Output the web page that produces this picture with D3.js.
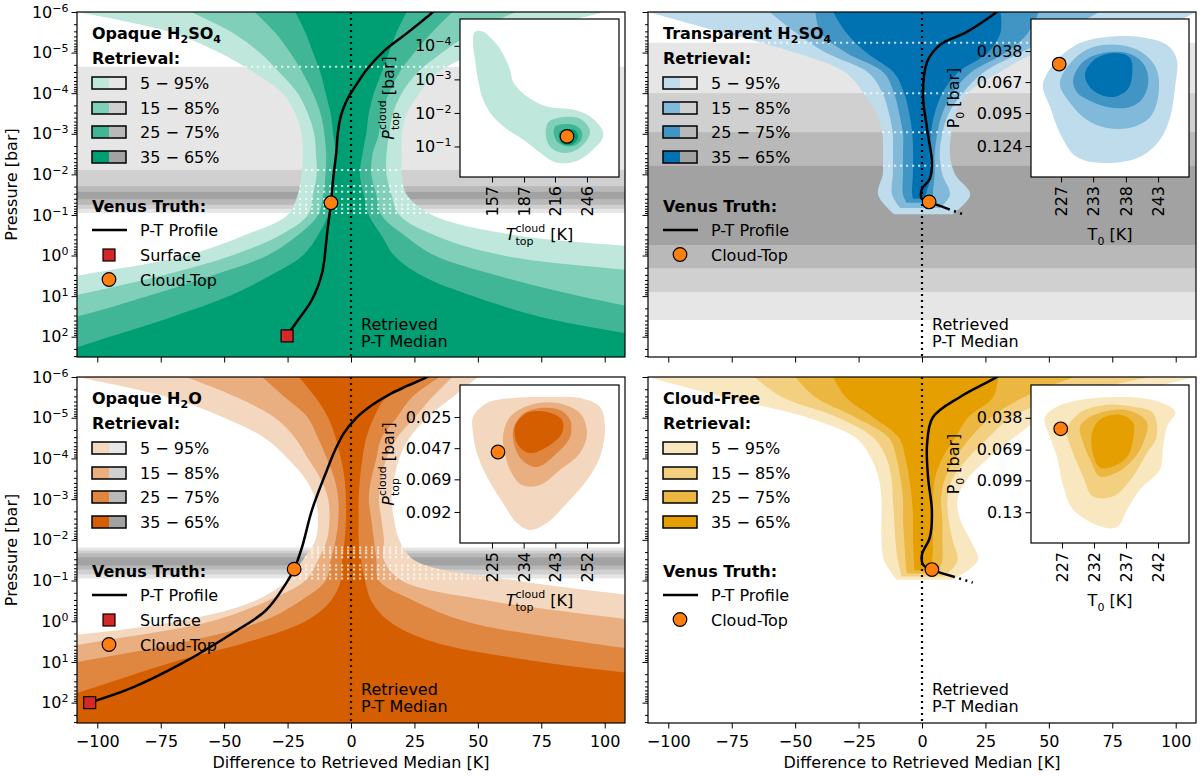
<!DOCTYPE html>
<html>
<head>
<meta charset="utf-8">
<script src="https://cdn.jsdelivr.net/npm/d3@7"></script>
<style>
  body { margin: 0; background: #fff; }
  svg text { font-family: "DejaVu Sans", sans-serif; }
</style>
</head>
<body>
<div id="chart"></div>
<script>
// ---- shared axis data ----
const kDomain = [-108, 108];
const xTicks = [-100, -75, -50, -25, 0, 25, 50, 75, 100];
const yMajor = [1e-6, 1e-5, 1e-4, 1e-3, 1e-2, 1e-1, 1, 10, 100];
const yExp = ["\u22126", "\u22125", "\u22124", "\u22123", "\u22122", "\u22121", "0", "1", "2"];
const bandLabels = ["5 \u2212 95%", "15 \u2212 85%", "25 \u2212 75%", "35 \u2212 65%"];

const GRAYS = ["#e6e6e6", "#d0d0d0", "#b9b9b9", "#a2a2a2"];
const greenShades = ["#bfe7dc", "#80cfb9", "#40b696", "#009e73"];
const blueShades = ["#bfdcec", "#80b9d9", "#4095c5", "#0072b2"];
const orangeShades = ["#f4d7bf", "#eaaf80", "#df8640", "#d55e00"];
const goldShades = ["#f9e7bf", "#f3cf80", "#ecb740", "#e69f00"];

// ---- percentile bands: [log10 P, q05, q15, q25, q35, q65, q75, q85, q95] in K ----
const h2so4Bands = [
  [-6, -108, -63, -38, -22, 22, 40, 65, 100],
  [-5.5, -71, -47, -30, -18, 18, 32, 48, 70],
  [-5, -52, -36, -24, -15, 15, 25, 36, 50],
  [-4.5, -38, -28, -19, -12, 12, 19, 26, 34],
  [-4, -27, -21, -15, -10, 9, 15, 20, 27],
  [-3.5, -22, -17, -12, -8, 7, 12, 16.5, 22],
  [-3, -19.5, -14.5, -10.5, -7, 6, 11, 15, 20],
  [-2.5, -19, -13.8, -9.8, -6, 4.5, 8.5, 14, 20],
  [-2, -19.5, -13.5, -10, -6.5, 3.5, 8, 14, 20],
  [-1.5, -21, -15, -11, -7, 5, 10, 16, 22],
  [-1, -25, -17, -13, -9, 7, 12, 19, 32],
  [-0.5, -42, -28, -21, -13, 12, 21, 33, 65],
  [0, -65, -47, -33, -19, 17, 33, 60, 160],
  [0.5, -108, -75, -55, -32, 28, 58, 130, 220],
  [1, -150, -110, -80, -48, 48, 90, 180, 270],
  [1.5, -200, -150, -108, -70, 74, 130, 220, 320],
  [2, -250, -200, -150, -95, 115, 170, 260, 370],
  [2.5, -300, -250, -200, -120, 150, 210, 300, 420]
];
const transBands = [
  [-6, -108, -60, -42, -35, 31, 46, 70, 108],
  [-5.5, -79, -50, -40, -30, 31, 42, 55, 90],
  [-5, -50, -38, -30, -22, 26, 33, 39, 46],
  [-4.5, -30, -21, -15, -11, 14, 19, 24, 30],
  [-4, -23, -15.5, -11, -7, 8, 12, 16, 18],
  [-3.5, -18, -13, -9, -5, 5, 8, 10.5, 13],
  [-3, -15.6, -11.5, -7.5, -3.8, 3.5, 6, 8, 11.5],
  [-2.5, -15.4, -11.4, -7.5, -3.5, 3, 5, 7, 11],
  [-2, -15.5, -11.5, -7.5, -3.6, 3.5, 5, 8, 13],
  [-1.5, -17.3, -11.8, -7.5, -3.9, 1.5, 4.3, 11, 19]
];
const transBottom = [[-1.02, -11, 12], [-1.17, -8.5, 7], [-1.3, -6, 4.5], [-1.4, -3.5, 1]];
const waterBands = [
  [-6, -108, -65, -35, -20.5, 29, 35, 40, 50],
  [-5.5, -72, -45, -26, -14, 14, 24, 32, 40],
  [-5, -50, -30, -17, -9, 9, 18, 25, 30],
  [-4.5, -34, -22, -13, -6, 6, 12, 18, 23],
  [-4, -25, -17, -9.5, -4, 4.5, 10, 14, 19],
  [-3.5, -18, -12, -6.5, -2.5, 3.5, 8, 12, 17],
  [-3, -14, -9, -5, -2, 3, 7, 11, 16],
  [-2.5, -13, -8.5, -5, -2, 3, 8, 12, 17],
  [-2, -14, -9.5, -6, -2.5, 3, 9, 13, 19],
  [-1.5, -19, -13, -8, -3.5, 4, 10, 13, 25],
  [-1, -25, -18, -10, -4, 5.5, 11, 20, 65],
  [-0.5, -38, -33, -20, -8, 8, 25, 55, 130],
  [0, -68, -55, -35, -18, 15, 45, 115, 200],
  [0.5, -130, -100, -65, -40, 32, 90, 180, 260],
  [1, -180, -150, -108, -70, 75, 150, 250, 320],
  [1.5, -230, -200, -160, -95, 140, 200, 300, 380],
  [2, -280, -250, -210, -120, 190, 250, 350, 420],
  [2.5, -320, -300, -260, -150, 240, 300, 400, 460]
];
const cfBands = [
  [-6, -108, -66, -50, -35, 30, 60, 90, 108],
  [-5.5, -78, -55, -42, -30, 28, 40, 55, 75],
  [-5, -45, -33, -26, -19, 18, 27, 35, 48],
  [-4.5, -26, -19, -13, -9, 13, 19, 26, 36],
  [-4, -20, -14, -10, -6.5, 8, 13, 18, 26],
  [-3.5, -17, -12, -8.5, -5, 5, 9, 12, 18],
  [-3, -16, -11.5, -7.5, -4, 4.3, 7.5, 10, 14],
  [-2.5, -16, -11, -7.5, -3.5, 4.3, 8, 10.5, 15],
  [-2, -16, -10.5, -7, -3.5, 4.3, 8, 12, 19],
  [-1.5, -15, -9.5, -6.5, -3.2, 4, 8, 14, 22]
];
const cfBottom = [[-1.02, -10, 12], [-1.1, -8, 9], [-1.17, -6, 6], [-1.25, -3, 3]];

// ---- cloud-top pressure bands (grey), [top, bottom] in log10 P ----
const h2so4Gray = [[-4.65, -1.05], [-2.11, -1.15], [-1.71, -1.25], [-1.57, -1.39]];
const transGray = [[-5.24, 1.59], [-4.0, 0.9], [-3.04, 0.31], [-2.21, -0.26]];
const waterGray = [[-1.81, -1.05], [-1.74, -1.15], [-1.67, -1.27], [-1.57, -1.37]];

// ---- Venus truth P-T profiles: [dT K, log10 P] ----
const h2so4PT = [[-25.2, 1.96], [-21.7, 1.66], [-15.4, 1.09], [-11.4, 0.43], [-9.4, -0.56], [-7.9, -1.3],
  [-7, -1.9], [-5.7, -2.6], [-5.2, -3.02], [-3.9, -3.46], [-1.6, -3.83], [2, -4.2], [6.7, -4.62], [13.4, -5.06],
  [22.1, -5.48], [31.9, -5.98], [33, -6.05]];
const waterPT = [[-103.1, 2.0], [-86.2, 1.63], [-66.5, 1.03], [-46.9, 0.3], [-33.5, -0.27], [-25.6, -0.93], [-22.4, -1.28],
  [-19.3, -1.82], [-15.4, -2.73], [-9.5, -3.71], [-6.3, -4.2], [-2.8, -4.62], [2, -4.99], [8.3, -5.31], [15.4, -5.58],
  [22.1, -5.78], [30, -6], [31, -6.05]];
const transPT = [[30.5, -6.05], [29.5, -6], [17.7, -5.51], [7.1, -5.19], [2, -4.77], [0.4, -3.96], [2, -3.12], [3.9, -2.31],
  [3.1, -1.89], [0, -1.64], [0, -1.39], [2.8, -1.32], [10.2, -1.15]];
const transPTDot = [[10.2, -1.15], [16, -1.02]];
const cfPT = [[30.5, -6.05], [29.5, -6], [15, -5.51], [4.3, -5.01], [2, -4.35], [2.4, -3.53], [3.9, -2.72], [3.1, -2.06],
  [0, -1.64], [0.4, -1.39], [3.9, -1.27], [12.2, -1.1]];
const cfPTDot = [[12.2, -1.1], [20, -0.95]];
const h2so4Top = [-7.9, -1.3], h2so4Surf = [-25.2, 1.98];
const waterTop = [-22.4, -1.28], waterSurf = [-103, 2.0];
const transTop = [2.8, -1.32];
const cfTop = [3.9, -1.27];

// ---- inset posteriors: contour outlines, outer -> inner ----
const h2so4In = [
  [[141.1,-4.42],[148.6,-4.42],[161.7,-4.03],[169.2,-3.64],[173.9,-3.29],[176.7,-2.93],[189.8,-2.49],[208.5,-2.19],[232.9,-2.1],[246,-1.95],[255.4,-1.71],[261,-1.45],[260.1,-1.21],[251.7,-0.91],[239.5,-0.61],[227.3,-0.5],[214.2,-0.55],[202,-0.82],[186.1,-1.21],[171.1,-1.51],[158,-1.89],[148.6,-2.4],[143.9,-2.99],[141.1,-3.58],[139.2,-4.09]],
  [[209.5,-1.71],[220.7,-1.86],[236.7,-1.86],[246,-1.65],[248.8,-1.42],[244.2,-1.12],[232.9,-0.85],[220.7,-0.82],[211.4,-1.0],[207.6,-1.3]],
  [[216,-1.59],[232.9,-1.65],[241.3,-1.45],[239.5,-1.15],[230.1,-1.0],[218.9,-1.12],[215.1,-1.36]],
  [[220.7,-1.45],[234.8,-1.48],[237.6,-1.27],[232,-1.06],[222.6,-1.09],[219.8,-1.27]]
];
const h2so4InTop = [227.3, -1.3];
const transIn = [
  [[224.4,0.0615],[226.3,0.0461],[230.1,0.0308],[234.6,0.0253],[240,0.0253],[244.5,0.0326],[246.1,0.0461],[245.8,0.0706],[245,0.0977],[243.3,0.1186],[240,0.134],[234.6,0.1394],[229.6,0.134],[226.8,0.1122],[225.2,0.0887],[224,0.0706]],
  [[226.8,0.067],[229,0.0461],[232.3,0.0344],[236.7,0.0326],[240.5,0.0398],[242.8,0.0552],[243,0.0796],[241.7,0.0977],[238.9,0.1068],[234.6,0.1077],[231.3,0.1005],[228.5,0.0851]],
  [[229,0.0643],[230.6,0.048],[233.9,0.0398],[237.9,0.0398],[240.5,0.0489],[241.4,0.0643],[240.5,0.0805],[238.4,0.0887],[234.6,0.0887],[231.5,0.0824],[229.6,0.0751]],
  [[231,0.057],[232.9,0.0443],[236.2,0.0398],[238.4,0.0443],[238.7,0.0615],[237.9,0.0733],[235.6,0.0796],[232.9,0.076],[231.3,0.067]]
];
const transInTop = [226.7, 0.0498];
const waterIn = [
  [[219.6,0.025],[223.6,0.0151],[231,0.0116],[240.6,0.0109],[250,0.0116],[255.7,0.0179],[257.1,0.0321],[255.7,0.0532],[252,0.0694],[246.3,0.0857],[240.6,0.0998],[235.8,0.1047],[232.1,0.0998],[228.1,0.0857],[223.6,0.0673],[220.7,0.0504],[219.6,0.0363]],
  [[228.1,0.0391],[230.1,0.025],[235.8,0.0165],[243.5,0.0151],[250,0.0222],[252,0.0363],[250,0.0504],[244.3,0.0624],[238.6,0.073],[233.5,0.073],[230.1,0.0624],[228.7,0.0504]],
  [[231,0.0342],[233.5,0.0236],[238.6,0.0187],[244.3,0.0201],[247.2,0.0271],[247.2,0.0391],[243.5,0.0504],[237.8,0.0603],[233.5,0.0553],[231.5,0.0462]],
  [[231.5,0.0321],[234.9,0.0222],[240.6,0.0215],[244.9,0.0271],[244.9,0.0363],[240.6,0.0462],[235.8,0.0504],[232.4,0.0447]]
];
const waterInTop = [226.7, 0.0497];
const cfIn = [
  [[224.3,0.038],[226.2,0.0273],[229.8,0.0206],[235,0.0177],[241.2,0.0206],[244.7,0.0322],[243.4,0.0467],[242.8,0.0661],[242.3,0.0884],[239.2,0.1077],[237.2,0.1271],[235.6,0.1445],[232.9,0.1436],[228.7,0.1271],[227.2,0.1048],[226.2,0.0758],[225.1,0.0564]],
  [[227.8,0.0496],[229.8,0.0332],[234,0.0254],[238.1,0.0273],[241.2,0.0332],[241.8,0.0564],[240.3,0.0719],[238.1,0.0951],[235,0.1145],[231.8,0.1145],[230.3,0.0951],[228.7,0.0719]],
  [[229.8,0.0467],[231.4,0.037],[235,0.0303],[238.1,0.0322],[240.3,0.0428],[239.7,0.0622],[238.1,0.0787],[235.6,0.0913],[232.9,0.0951],[231.4,0.0787],[230.3,0.0622]],
  [[231.7,0.0525],[232.9,0.0399],[236.1,0.0351],[238.1,0.0428],[238.1,0.0593],[237.2,0.0758],[235,0.0855],[232.9,0.0864],[231.8,0.0719]]
];
const cfInTop = [226.8, 0.0487];

// inset ticks
const h2so4InXTicks = [157, 187, 216, 246];
const h2so4InYTicks = [-4, -3, -2, -1];
const transInXTicks = [227, 232.3, 237.7, 243], transInXLabels = ["227", "233", "238", "243"];
const transInYTicks = [0.038, 0.0661, 0.0941, 0.124], transInYLabels = ["0.038", "0.067", "0.095", "0.124"];
const waterInXTicks = [225, 234, 243, 252];
const waterInYTicks = [0.025, 0.047, 0.069, 0.092], waterInYLabels = ["0.025", "0.047", "0.069", "0.092"];
const cfInXTicks = [227, 232, 237, 242];
const cfInYTicks = [0.038, 0.069, 0.099, 0.13], cfInYLabels = ["0.038", "0.069", "0.099", "0.13"];

// ---- layout ----
const FONT = "'DejaVu Sans', sans-serif";
const svg = d3.select("#chart").append("svg").attr("width", 1200).attr("height", 776)
  .style("font-family", FONT);
svg.append("rect").attr("width", 1200).attr("height", 776).attr("fill", "#fff");
const defs = svg.append("defs");
const P = L => Math.pow(10, L);

const topLabel = [{t: "T", it: true}, {sup: "cloud", sub: "top"}, {gap: 5}, {t: "[K]"}];
const ptopLabel = [{t: "P", it: true}, {sup: "cloud", sub: "top"}, {gap: 5}, {t: "[bar]"}];
const t0Label = [{t: "T"}, {sub: "0"}, {gap: 5}, {t: "[K]"}];
const p0Label = [{t: "P"}, {sub: "0"}, {gap: 5}, {t: "[bar]"}];

const panels = [
  {id: "tl", x0: 77, x1: 625, y0: 12, y1: 357, shades: greenShades, table: h2so4Bands, bottom: null,
   gray: h2so4Gray, pt: h2so4PT, ptDot: null, top: h2so4Top, surf: h2so4Surf,
   title: [["Opaque H", 0], ["2", 1], ["SO", 0], ["4", 1]], xLab: false, yLab: true, split: true,
   inset: {x0: 460, x1: 619, y0: 19, y1: 177, xDom: [127, 276], yLog: true, yDom: [P(-4.8), P(-0.09)],
     xTicks: h2so4InXTicks, xLabels: null, yTicks: h2so4InYTicks, yLabels: null,
     contours: h2so4In, top: h2so4InTop, xTitle: topLabel, yTitle: ptopLabel, yTitleX: 394}},
  {id: "tr", x0: 648, x1: 1196, y0: 12, y1: 357, shades: blueShades, table: transBands, bottom: transBottom,
   gray: transGray, pt: transPT, ptDot: transPTDot, top: transTop, surf: null,
   title: [["Transparent H", 0], ["2", 1], ["SO", 0], ["4", 1]], xLab: false, yLab: false, split: true,
   inset: {x0: 1031, x1: 1189, y0: 19, y1: 177, xDom: [222.05, 248.1], yLog: false, yDom: [0.009, 0.152],
     xTicks: transInXTicks, xLabels: transInXLabels, yTicks: transInYTicks, yLabels: transInYLabels,
     contours: transIn, top: transInTop, xTitle: t0Label, yTitle: p0Label, yTitleX: 959}},
  {id: "bl", x0: 77, x1: 625, y0: 377, y1: 723, shades: orangeShades, table: waterBands, bottom: null,
   gray: waterGray, pt: waterPT, ptDot: null, top: waterTop, surf: waterSurf,
   title: [["Opaque H", 0], ["2", 1], ["O", 0]], xLab: true, yLab: true, split: true,
   inset: {x0: 460, x1: 619, y0: 385, y1: 543, xDom: [215.9, 261.1], yLog: false, yDom: [0.00243, 0.1139],
     xTicks: waterInXTicks, xLabels: null, yTicks: waterInYTicks, yLabels: waterInYLabels,
     contours: waterIn, top: waterInTop, xTitle: topLabel, yTitle: ptopLabel, yTitleX: 394}},
  {id: "br", x0: 648, x1: 1196, y0: 377, y1: 723, shades: goldShades, table: cfBands, bottom: cfBottom,
   gray: null, pt: cfPT, ptDot: cfPTDot, top: cfTop, surf: null,
   title: [["Cloud-Free", 0]], xLab: true, yLab: false, split: false,
   inset: {x0: 1031, x1: 1189, y0: 385, y1: 543, xDom: [222.16, 246.84], yLog: false, yDom: [0.00604, 0.16],
     xTicks: cfInXTicks, xLabels: null, yTicks: cfInYTicks, yLabels: cfInYLabels,
     contours: cfIn, top: cfInTop, xTitle: t0Label, yTitle: p0Label, yTitleX: 959}}
];

function bandRows(table, k, bottom) {
  const rows = table.map(r => ({L: r[0], lo: r[1 + k], hi: r[8 - k]}));
  if (bottom) rows.push({L: bottom[k][0], lo: bottom[k][1], hi: bottom[k][2]});
  return rows;
}

// builds a small mathtext-like label centered at the origin, baseline y=0
function mathText(parent, parts) {
  const g = parent.append("g");
  let cx = 0;
  parts.forEach(pt => {
    if (pt.gap) { cx += pt.gap; return; }
    if (pt.sup || pt.sub) {
      let w = 0;
      if (pt.sup) {
        const t = g.append("text").attr("x", cx).attr("y", -8).attr("font-size", 11).text(pt.sup);
        w = Math.max(w, t.node().getComputedTextLength());
      }
      if (pt.sub) {
        const t = g.append("text").attr("x", cx).attr("y", 5).attr("font-size", 11).text(pt.sub);
        w = Math.max(w, t.node().getComputedTextLength());
      }
      cx += w;
    } else {
      const t = g.append("text").attr("x", cx).attr("font-size", 16).text(pt.t);
      if (pt.it) t.attr("font-style", "italic");
      cx += t.node().getComputedTextLength();
    }
  });
  g.attr("transform", `translate(${-cx / 2},0)`);
  return g;
}

function styleAxis(sel) {
  sel.attr("font-family", FONT).attr("font-size", 16);
  sel.select(".domain").remove();
  sel.selectAll(".tick line").attr("stroke", "#000").attr("stroke-width", 1);
  sel.selectAll(".tick text").attr("fill", "#000");
}

function drawPanel(p) {
  const x = d3.scaleLinear().domain(kDomain).range([p.x0, p.x1]);
  const y = d3.scaleLog().domain([1e-6, P(2.5)]).range([p.y0, p.y1]);
  const g = svg.append("g");
  const cid = "clip-" + p.id;
  defs.append("clipPath").attr("id", cid).append("rect")
    .attr("x", p.x0).attr("y", p.y0).attr("width", p.x1 - p.x0).attr("height", p.y1 - p.y0);
  const plot = g.append("g").attr("clip-path", `url(#${cid})`);

  if (p.gray) p.gray.forEach((b, i) => {
    plot.append("rect").attr("x", p.x0).attr("width", p.x1 - p.x0)
      .attr("y", y(P(b[0]))).attr("height", y(P(b[1])) - y(P(b[0]))).attr("fill", GRAYS[i]);
  });

  const area = d3.area().curve(d3.curveCatmullRom)
    .y(d => y(P(d.L))).x0(d => x(d.lo)).x1(d => x(d.hi));
  const bands = [0, 1, 2, 3].map(k => bandRows(p.table, k, p.bottom));
  bands.forEach((rows, k) => plot.append("path").attr("d", area(rows)).attr("fill", p.shades[k]));

  if (p.gray) {
    const bid = "band-" + p.id;
    defs.append("clipPath").attr("id", bid).append("path").attr("d", area(bands[0]));
    const dl = plot.append("g").attr("clip-path", `url(#${bid})`);
    p.gray.flat().forEach(L => {
      dl.append("line").attr("x1", p.x0).attr("x2", p.x1).attr("y1", y(P(L))).attr("y2", y(P(L)))
        .attr("stroke", "#fff").attr("stroke-opacity", 0.75).attr("stroke-width", 2)
        .attr("stroke-dasharray", "2.2,3.8");
    });
  }

  // retrieved median
  plot.append("line").attr("x1", x(0)).attr("x2", x(0)).attr("y1", p.y0).attr("y2", p.y1)
    .attr("stroke", "#000").attr("stroke-width", 2.2).attr("stroke-dasharray", "2,4");
  const med = g.append("text").attr("font-size", 16);
  med.append("tspan").attr("x", x(0) + 10).attr("y", p.y0 + 318).text("Retrieved");
  med.append("tspan").attr("x", x(0) + 10).attr("y", p.y0 + 335).text("P-T Median");

  const line = d3.line().curve(d3.curveCatmullRom).x(d => x(d[0])).y(d => y(P(d[1])));
  plot.append("path").attr("d", line(p.pt)).attr("fill", "none").attr("stroke", "#000").attr("stroke-width", 2.5);
  if (p.ptDot) plot.append("path").attr("d", line(p.ptDot)).attr("fill", "none").attr("stroke", "#000")
    .attr("stroke-width", 2.5).attr("stroke-dasharray", "2,4.5");
  if (p.surf) g.append("rect").attr("x", x(p.surf[0]) - 6).attr("y", y(P(p.surf[1])) - 6)
    .attr("width", 12).attr("height", 12).attr("fill", "#d62728").attr("stroke", "#000").attr("stroke-width", 1.2);
  g.append("circle").attr("cx", x(p.top[0])).attr("cy", y(P(p.top[1]))).attr("r", 6.8)
    .attr("fill", "#ff7f0e").attr("stroke", "#000").attr("stroke-width", 1.2);

  // axes
  const ax = d3.axisBottom(x).tickValues(xTicks).tickSize(5.5).tickPadding(7);
  if (!p.xLab) ax.tickFormat("");
  g.append("g").attr("transform", `translate(0,${p.y1})`).call(ax).call(styleAxis);

  const minor = [];
  for (let e = -6; e <= 2; e++) for (let m = 2; m <= 9; m++) if (m * P(e) <= P(2.5)) minor.push(m * P(e));
  g.append("g").attr("transform", `translate(${p.x0},0)`)
    .call(d3.axisLeft(y).tickValues(minor).tickSize(3).tickFormat("")).call(styleAxis);
  const gy = g.append("g").attr("transform", `translate(${p.x0},0)`)
    .call(d3.axisLeft(y).tickValues(yMajor).tickSize(5.5).tickPadding(3).tickFormat("")).call(styleAxis);
  if (p.yLab) {
    gy.selectAll(".tick text").each(function(d, i) {
      const t = d3.select(this);
      t.append("tspan").text("10");
      t.append("tspan").attr("dy", "-0.55em").attr("font-size", 11).text(yExp[i]);
    });
    g.append("text").attr("transform", `translate(17,${(p.y0 + p.y1) / 2}) rotate(-90)`)
      .attr("text-anchor", "middle").attr("font-size", 16).text("Pressure [bar]");
  }
  if (p.xLab) {
    g.append("text").attr("x", (p.x0 + p.x1) / 2).attr("y", 768).attr("text-anchor", "middle")
      .attr("font-size", 16).text("Difference to Retrieved Median [K]");
  }
  g.append("rect").attr("x", p.x0).attr("y", p.y0).attr("width", p.x1 - p.x0).attr("height", p.y1 - p.y0)
    .attr("fill", "none").attr("stroke", "#000").attr("stroke-width", 1.2);

  // legend
  const lx = p.x0 + 15;
  const tt = g.append("text").attr("x", lx).attr("y", p.y0 + 27).attr("font-weight", "bold").attr("font-size", 16);
  p.title.forEach(([s, sub], i) => {
    const ts = tt.append("tspan").text(s);
    if (sub) ts.attr("font-size", 11).attr("dy", 4);
    else if (i > 0 && p.title[i - 1][1]) ts.attr("dy", -4);
  });
  g.append("text").attr("x", lx).attr("y", p.y0 + 52).attr("font-weight", "bold").attr("font-size", 16).text("Retrieval:");
  [71, 96, 120, 145].forEach((dy, k) => {
    const cy = p.y0 + dy;
    g.append("rect").attr("x", lx).attr("y", cy - 6).attr("width", 17).attr("height", 12).attr("fill", p.shades[k]);
    g.append("rect").attr("x", lx + 17).attr("y", cy - 6).attr("width", 17).attr("height", 12)
      .attr("fill", p.split ? GRAYS[k] : p.shades[k]);
    g.append("rect").attr("x", lx).attr("y", cy - 6).attr("width", 34).attr("height", 12)
      .attr("fill", "none").attr("stroke", "#000").attr("stroke-width", 1.5);
    g.append("text").attr("x", lx + 48).attr("y", cy + 6).attr("font-size", 16).text(bandLabels[k]);
  });
  g.append("text").attr("x", lx).attr("y", p.y0 + 200).attr("font-weight", "bold").attr("font-size", 16).text("Venus Truth:");
  let ry = p.y0 + 218;
  g.append("line").attr("x1", lx).attr("x2", lx + 35).attr("y1", ry).attr("y2", ry).attr("stroke", "#000").attr("stroke-width", 2.5);
  g.append("text").attr("x", lx + 48).attr("y", ry + 6).attr("font-size", 16).text("P-T Profile");
  if (p.surf) {
    ry += 25;
    g.append("rect").attr("x", lx + 11).attr("y", ry - 6).attr("width", 12).attr("height", 12)
      .attr("fill", "#d62728").attr("stroke", "#000").attr("stroke-width", 1.2);
    g.append("text").attr("x", lx + 48).attr("y", ry + 6).attr("font-size", 16).text("Surface");
  }
  ry += 24.5;
  g.append("circle").attr("cx", lx + 17).attr("cy", ry).attr("r", 6.8).attr("fill", "#ff7f0e")
    .attr("stroke", "#000").attr("stroke-width", 1.2);
  g.append("text").attr("x", lx + 48).attr("y", ry + 6).attr("font-size", 16).text("Cloud-Top");

  drawInset(p, p.inset);
}

function drawInset(p, s) {
  const g = svg.append("g");
  const ix = d3.scaleLinear().domain(s.xDom).range([s.x0, s.x1]);
  const iy = (s.yLog ? d3.scaleLog() : d3.scaleLinear()).domain(s.yDom).range([s.y0, s.y1]);
  const yv = v => s.yLog ? P(v) : v;
  g.append("rect").attr("x", s.x0).attr("y", s.y0).attr("width", s.x1 - s.x0).attr("height", s.y1 - s.y0).attr("fill", "#fff");
  const cid = "iclip-" + p.id;
  defs.append("clipPath").attr("id", cid).append("rect")
    .attr("x", s.x0).attr("y", s.y0).attr("width", s.x1 - s.x0).attr("height", s.y1 - s.y0);
  const cg = g.append("g").attr("clip-path", `url(#${cid})`);
  const line = d3.line().curve(d3.curveCatmullRomClosed).x(d => ix(d[0])).y(d => iy(yv(d[1])));
  s.contours.forEach((c, k) => cg.append("path").attr("d", line(c)).attr("fill", p.shades[k]));
  g.append("circle").attr("cx", ix(s.top[0])).attr("cy", iy(yv(s.top[1]))).attr("r", 6.8)
    .attr("fill", "#ff7f0e").attr("stroke", "#000").attr("stroke-width", 1.2);
  g.append("rect").attr("x", s.x0).attr("y", s.y0).attr("width", s.x1 - s.x0).attr("height", s.y1 - s.y0)
    .attr("fill", "none").attr("stroke", "#000").attr("stroke-width", 1.2);

  const ax = d3.axisBottom(ix).tickValues(s.xTicks).tickSize(5.5)
    .tickFormat((d, i) => s.xLabels ? s.xLabels[i] : d3.format(".0f")(d));
  const gx = g.append("g").attr("transform", `translate(0,${s.y1})`).call(ax).call(styleAxis);
  gx.selectAll(".tick text").attr("transform", "rotate(-90)").attr("text-anchor", "end")
    .attr("x", -9).attr("y", 0).attr("dy", "0.35em");

  const ay = d3.axisLeft(iy).tickSize(5.5).tickPadding(3)
    .tickValues(s.yLog ? s.yTicks.map(P) : s.yTicks)
    .tickFormat((d, i) => s.yLog ? "" : s.yLabels[i]);
  const gy = g.append("g").attr("transform", `translate(${s.x0},0)`).call(ay).call(styleAxis);
  if (s.yLog) {
    gy.selectAll(".tick text").each(function(d, i) {
      const t = d3.select(this);
      t.append("tspan").text("10");
      t.append("tspan").attr("dy", "-0.55em").attr("font-size", 11).text("\u2212" + Math.abs(s.yTicks[i]));
    });
  }
  const xl = g.append("g").attr("transform", `translate(${(s.x0 + s.x1) / 2},${s.y1 + 63})`);
  mathText(xl, s.xTitle);
  const yl = g.append("g").attr("transform", `translate(${s.yTitleX},${(s.y0 + s.y1) / 2}) rotate(-90)`);
  mathText(yl, s.yTitle);
}

panels.forEach(drawPanel);
</script>
</body>
</html>
